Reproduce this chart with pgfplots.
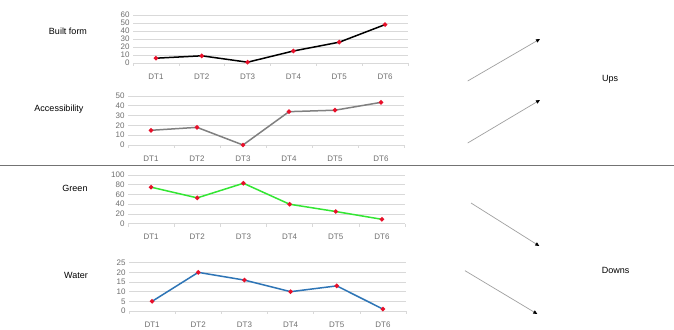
\documentclass[border=0pt]{standalone}
\usepackage{pgfplots}
\pgfplotsset{compat=1.18}
\usepackage{fontspec}
\setmainfont{Liberation Sans}
\usetikzlibrary{arrows.meta}
\definecolor{gridc}{HTML}{D9D9D9}
\definecolor{tickc}{HTML}{6F6F6F}
\definecolor{accgray}{HTML}{808080}
\definecolor{greenl}{HTML}{33E633}
\definecolor{bluel}{HTML}{2E75B6}
\definecolor{arrowg}{HTML}{A0A0A0}
\definecolor{mk}{HTML}{E8102A}
\pgfplotsset{
  mini/.style={
    scale only axis,
    xmin=0.5, xmax=6.5, ymin=0,
    xtick={1,2,3,4,5,6},
    xticklabels={DT1,DT2,DT3,DT4,DT5,DT6},
    minor xtick={0.5,1.5,2.5,3.5,4.5,5.5,6.5},
    xtick pos=lower, ytick pos=left,
    tick align=outside,
    major tick length=0pt, minor tick length=3pt,
    minor tick style={gridc, line width=0.6pt},
    axis line style={draw=none},
    ymajorgrids, grid style={gridc, line width=0.6pt},
    tick label style={font=\fontsize{8}{9}\selectfont, text=tickc},
    xticklabel style={yshift=-7pt},
    /pgf/number format/assume math mode=true,
    clip=false,
  },
}
\newcommand{\ser}[2]{\addplot[color=#1, line width=1.5pt, mark=*, mark size=1.4pt,
    mark options={fill=mk, draw=mk, solid}] coordinates {#2};}
\begin{document}
\begin{tikzpicture}[x=1pt,y=1pt]
\useasboundingbox (0,0) rectangle (674,329);
\fill[white] (0,0) rectangle (674,329);

% Built form
\begin{axis}[mini, at={(133pt,266pt)}, anchor=south west,
  width=275pt, height=48pt, ymax=60, ytick={0,10,...,60}]
\ser{black}{(1,6) (2,9) (3,1) (4,15) (5,26) (6,48)}
\draw[gridc, line width=0.8pt] (axis cs:0.5,0) -- (axis cs:6.5,0);
\end{axis}

% Accessibility
\begin{axis}[mini, at={(128pt,184pt)}, anchor=south west,
  width=276pt, height=49pt, ymax=50, ytick={0,10,...,50}]
\ser{accgray}{(1,15) (2,18) (3,0) (4,34) (5,35.5) (6,43.5)}
\draw[gridc, line width=0.8pt] (axis cs:0.5,0) -- (axis cs:6.5,0);
\end{axis}

% Green
\begin{axis}[mini, at={(128pt,105.3pt)}, anchor=south west,
  width=277pt, height=48.7pt, ymax=100, ytick={0,20,...,100}]
\ser{greenl}{(1,75) (2,53) (3,83) (4,40) (5,25) (6,9)}
\draw[gridc, line width=0.8pt] (axis cs:0.5,0) -- (axis cs:6.5,0);
\end{axis}

% Water
\begin{axis}[mini, at={(129pt,18pt)}, anchor=south west,
  width=277pt, height=48.3pt, ymax=25, ytick={0,5,...,25}]
\ser{bluel}{(1,5) (2,20) (3,16) (4,10) (5,13) (6,1)}
\draw[gridc, line width=0.8pt] (axis cs:0.5,0) -- (axis cs:6.5,0);
\end{axis}

% left labels
\node[font=\fontsize{9}{10}\selectfont] at (68,298) {Built form};
\node[font=\fontsize{9}{10}\selectfont] at (59,220) {Accessibility};
\node[font=\fontsize{9}{10}\selectfont] at (75,141) {Green};
\node[font=\fontsize{9}{10}\selectfont] at (76,54) {Water};

% separator
\draw[color=accgray!90!black, line width=1.2pt] (0,163.3) -- (674,163.3);

% arrows
\draw[arrowg, line width=0.7pt, -{Triangle[length=4pt,width=3.5pt,color=black]}] (467.7,248) -- (540,290);
\draw[arrowg, line width=0.7pt, -{Triangle[length=4pt,width=3.5pt,color=black]}] (467.7,186) -- (540,229);
\draw[arrowg, line width=0.7pt, -{Triangle[length=4pt,width=3.5pt,color=black]}] (471,126) -- (539.3,83);
\draw[arrowg, line width=0.7pt, -{Triangle[length=4pt,width=3.5pt,color=black]}] (465,58.3) -- (537.3,15);

\node[font=\fontsize{9}{10}\selectfont] at (610,250) {Ups};
\node[font=\fontsize{9}{10}\selectfont] at (615.7,58.3) {Downs};
\end{tikzpicture}
\end{document}
